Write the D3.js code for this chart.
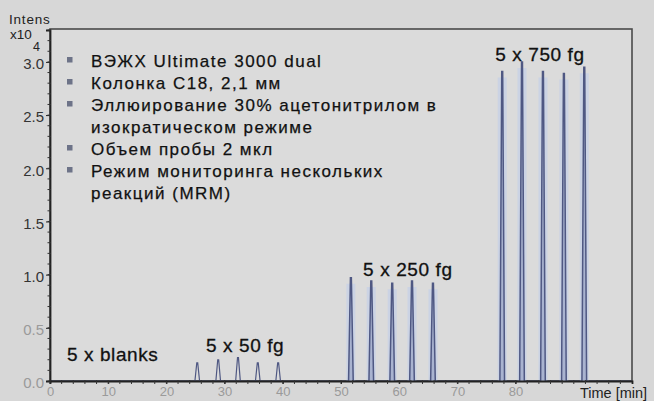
<!DOCTYPE html>
<html>
<head>
<meta charset="utf-8">
<script src="https://cdn.jsdelivr.net/npm/d3@7"></script>
<style>
  body { margin: 0; background: #d7d7d7; }
  svg { display: block; font-family: "Liberation Sans", Arial, sans-serif; }
</style>
</head>
<body>
<svg id="chart" width="654" height="401"></svg>
<script>
// peak apex times (min) and intensities (x10^4)
const fg50Times = [25.3, 28.9, 32.3, 35.7, 39.2];
const fg50Heights = [0.17, 0.20, 0.22, 0.17, 0.17];
const fg250Times = [51.7, 55.2, 58.8, 62.2, 65.8];
const fg250Heights = [0.97, 0.94, 0.92, 0.94, 0.92];
const fg750Times = [77.7, 81.1, 84.7, 88.3, 91.8];
const fg750Heights = [2.91, 3.00, 2.91, 2.89, 2.95];

const xTicks = [0, 10, 20, 30, 40, 50, 60, 70, 80];
const yTicks = [0, 0.5, 1.0, 1.5, 2.0, 2.5, 3.0];

const notes = [
  "ВЭЖХ Ultimate 3000 dual",
  "Колонка C18, 2,1 мм",
  "Эллюирование 30% ацетонитрилом в",
  "изократическом режиме",
  "Объем пробы 2 мкл",
  "Режим мониторинга нескольких",
  "реакций (MRM)"
];
const bulleted = [true, true, true, false, true, true, false];

const groups = [
  { label: "5 x blanks", t: 2.9, v: 0.19 },
  { label: "5 x 50 fg", t: 26.8, v: 0.27 },
  { label: "5 x 250 fg", t: 53.8, v: 0.99 },
  { label: "5 x 750 fg", t: 76.5, v: 3.01 }
];

const svg = d3.select("#chart");
const mLeft = 50, mRight = 632, mTop = 29, mBottom = 381;

const x = d3.scaleLinear().domain([0, 100]).range([mLeft, mRight]);
const y = d3.scaleLinear().domain([0, 3.3]).range([mBottom, 30]);

// plot frame
svg.append("rect")
  .attr("x", mLeft).attr("y", mTop)
  .attr("width", mRight - mLeft).attr("height", mBottom - mTop)
  .attr("fill", "#dbdbdb")
  .attr("stroke", "#4a4a4a").attr("stroke-width", 1.6);

// peaks
const peaks = [];
fg50Times.forEach((t, i) => peaks.push({ t, h: fg50Heights[i], big: false }));
fg250Times.forEach((t, i) => peaks.push({ t, h: fg250Heights[i], big: true }));
fg750Times.forEach((t, i) => peaks.push({ t, h: fg750Heights[i], big: true }));

svg.selectAll("line.halo")
  .data(peaks.filter(d => d.big))
  .enter().append("line")
  .attr("class", "halo")
  .attr("x1", d => x(d.t)).attr("x2", d => x(d.t))
  .attr("y1", y(0)).attr("y2", d => y(d.h) + 6)
  .attr("stroke", "#c6d1e8").attr("stroke-width", 9).attr("opacity", 0.75);

const line = d3.line().x(d => x(d[0])).y(d => y(d[1]));

// baseline trace
svg.append("path")
  .attr("d", line([[0, 0], [100, 0]]))
  .attr("stroke", "#4a5378").attr("stroke-width", 1.2).attr("fill", "none");

svg.selectAll("path.peak")
  .data(peaks)
  .enter().append("path")
  .attr("class", "peak")
  .attr("d", d => line([[d.t - 0.4, 0], [d.t - 0.08, d.h], [d.t + 0.08, d.h], [d.t + 0.4, 0]]))
  .attr("fill", d => d.big ? "#a9b3d0" : "none")
  .attr("stroke", "#4f5883")
  .attr("stroke-width", d => d.big ? 1.5 : 1.2);

// axes
const yAxis = d3.axisLeft(y).tickValues(yTicks).tickFormat(d3.format(".1f")).tickSize(4).tickPadding(2);
const gy = svg.append("g").attr("transform", `translate(${mLeft},0)`).call(yAxis);
gy.attr("font-family", null);
gy.select(".domain").attr("stroke", "#222").attr("stroke-width", 1.8);
gy.selectAll(".tick line").attr("stroke", "#222");
gy.selectAll("text").attr("fill", (d) => d < 1 ? "#9a9a9a" : "#333").attr("font-size", 15).attr("dy", "0.45em");

const yMinor = d3.range(0, 3.31, 0.1);
svg.append("g").selectAll("line")
  .data(yMinor).enter().append("line")
  .attr("x1", mLeft - 2.5).attr("x2", mLeft + 1)
  .attr("y1", d => y(d)).attr("y2", d => y(d))
  .attr("stroke", "#333");

const xAxis = d3.axisBottom(x).tickValues(xTicks).tickSize(3).tickPadding(3);
const gx = svg.append("g").attr("transform", `translate(0,${mBottom})`).call(xAxis);
gx.attr("font-family", null);
gx.select(".domain").attr("stroke", "#222").attr("stroke-width", 1.8);
gx.selectAll(".tick line").attr("stroke", "#222");
gx.selectAll("text").attr("fill", "#9a9a9a").attr("font-size", 13);

const xMinor = d3.range(0, 100, 2);
svg.append("g").selectAll("line")
  .data(xMinor).enter().append("line")
  .attr("x1", d => x(d)).attr("x2", d => x(d))
  .attr("y1", mBottom - 1).attr("y2", mBottom + 3)
  .attr("stroke", "#333");

// axis titles
svg.append("text").attr("x", 9).attr("y", 24).attr("font-size", 13.5).attr("letter-spacing", 0.8).attr("fill", "#222").text("Intens");
svg.append("text").attr("x", 10).attr("y", 39).attr("font-size", 13.5).attr("fill", "#222").text("x10");
svg.append("text").attr("x", 33).attr("y", 51).attr("font-size", 12.5).attr("fill", "#222").text("4");
svg.append("text").attr("x", 580).attr("y", 398).attr("font-size", 14.5).attr("fill", "#222").text("Time [min]");

// group labels
svg.selectAll("text.group")
  .data(groups).enter().append("text")
  .attr("class", "group")
  .attr("x", d => x(d.t)).attr("y", d => y(d.v))
  .attr("font-size", 19).attr("fill", "#111").attr("letter-spacing", 0.6)
  .attr("stroke", "#111").attr("stroke-width", 0.3)
  .text(d => d.label);

// notes block
const ng = svg.append("g");
notes.forEach((s, i) => {
  const yy = 66.5 + i * 22;
  if (bulleted[i]) {
    ng.append("rect").attr("x", 67).attr("y", yy - 9.5).attr("width", 5.5).attr("height", 5.5).attr("fill", "#6d7388");
  }
  ng.append("text").attr("x", 91).attr("y", yy)
    .attr("font-size", 17).attr("fill", "#111").attr("letter-spacing", 1.5)
    .attr("stroke", "#111").attr("stroke-width", 0.25)
    .text(s);
});
</script>
</body>
</html>
